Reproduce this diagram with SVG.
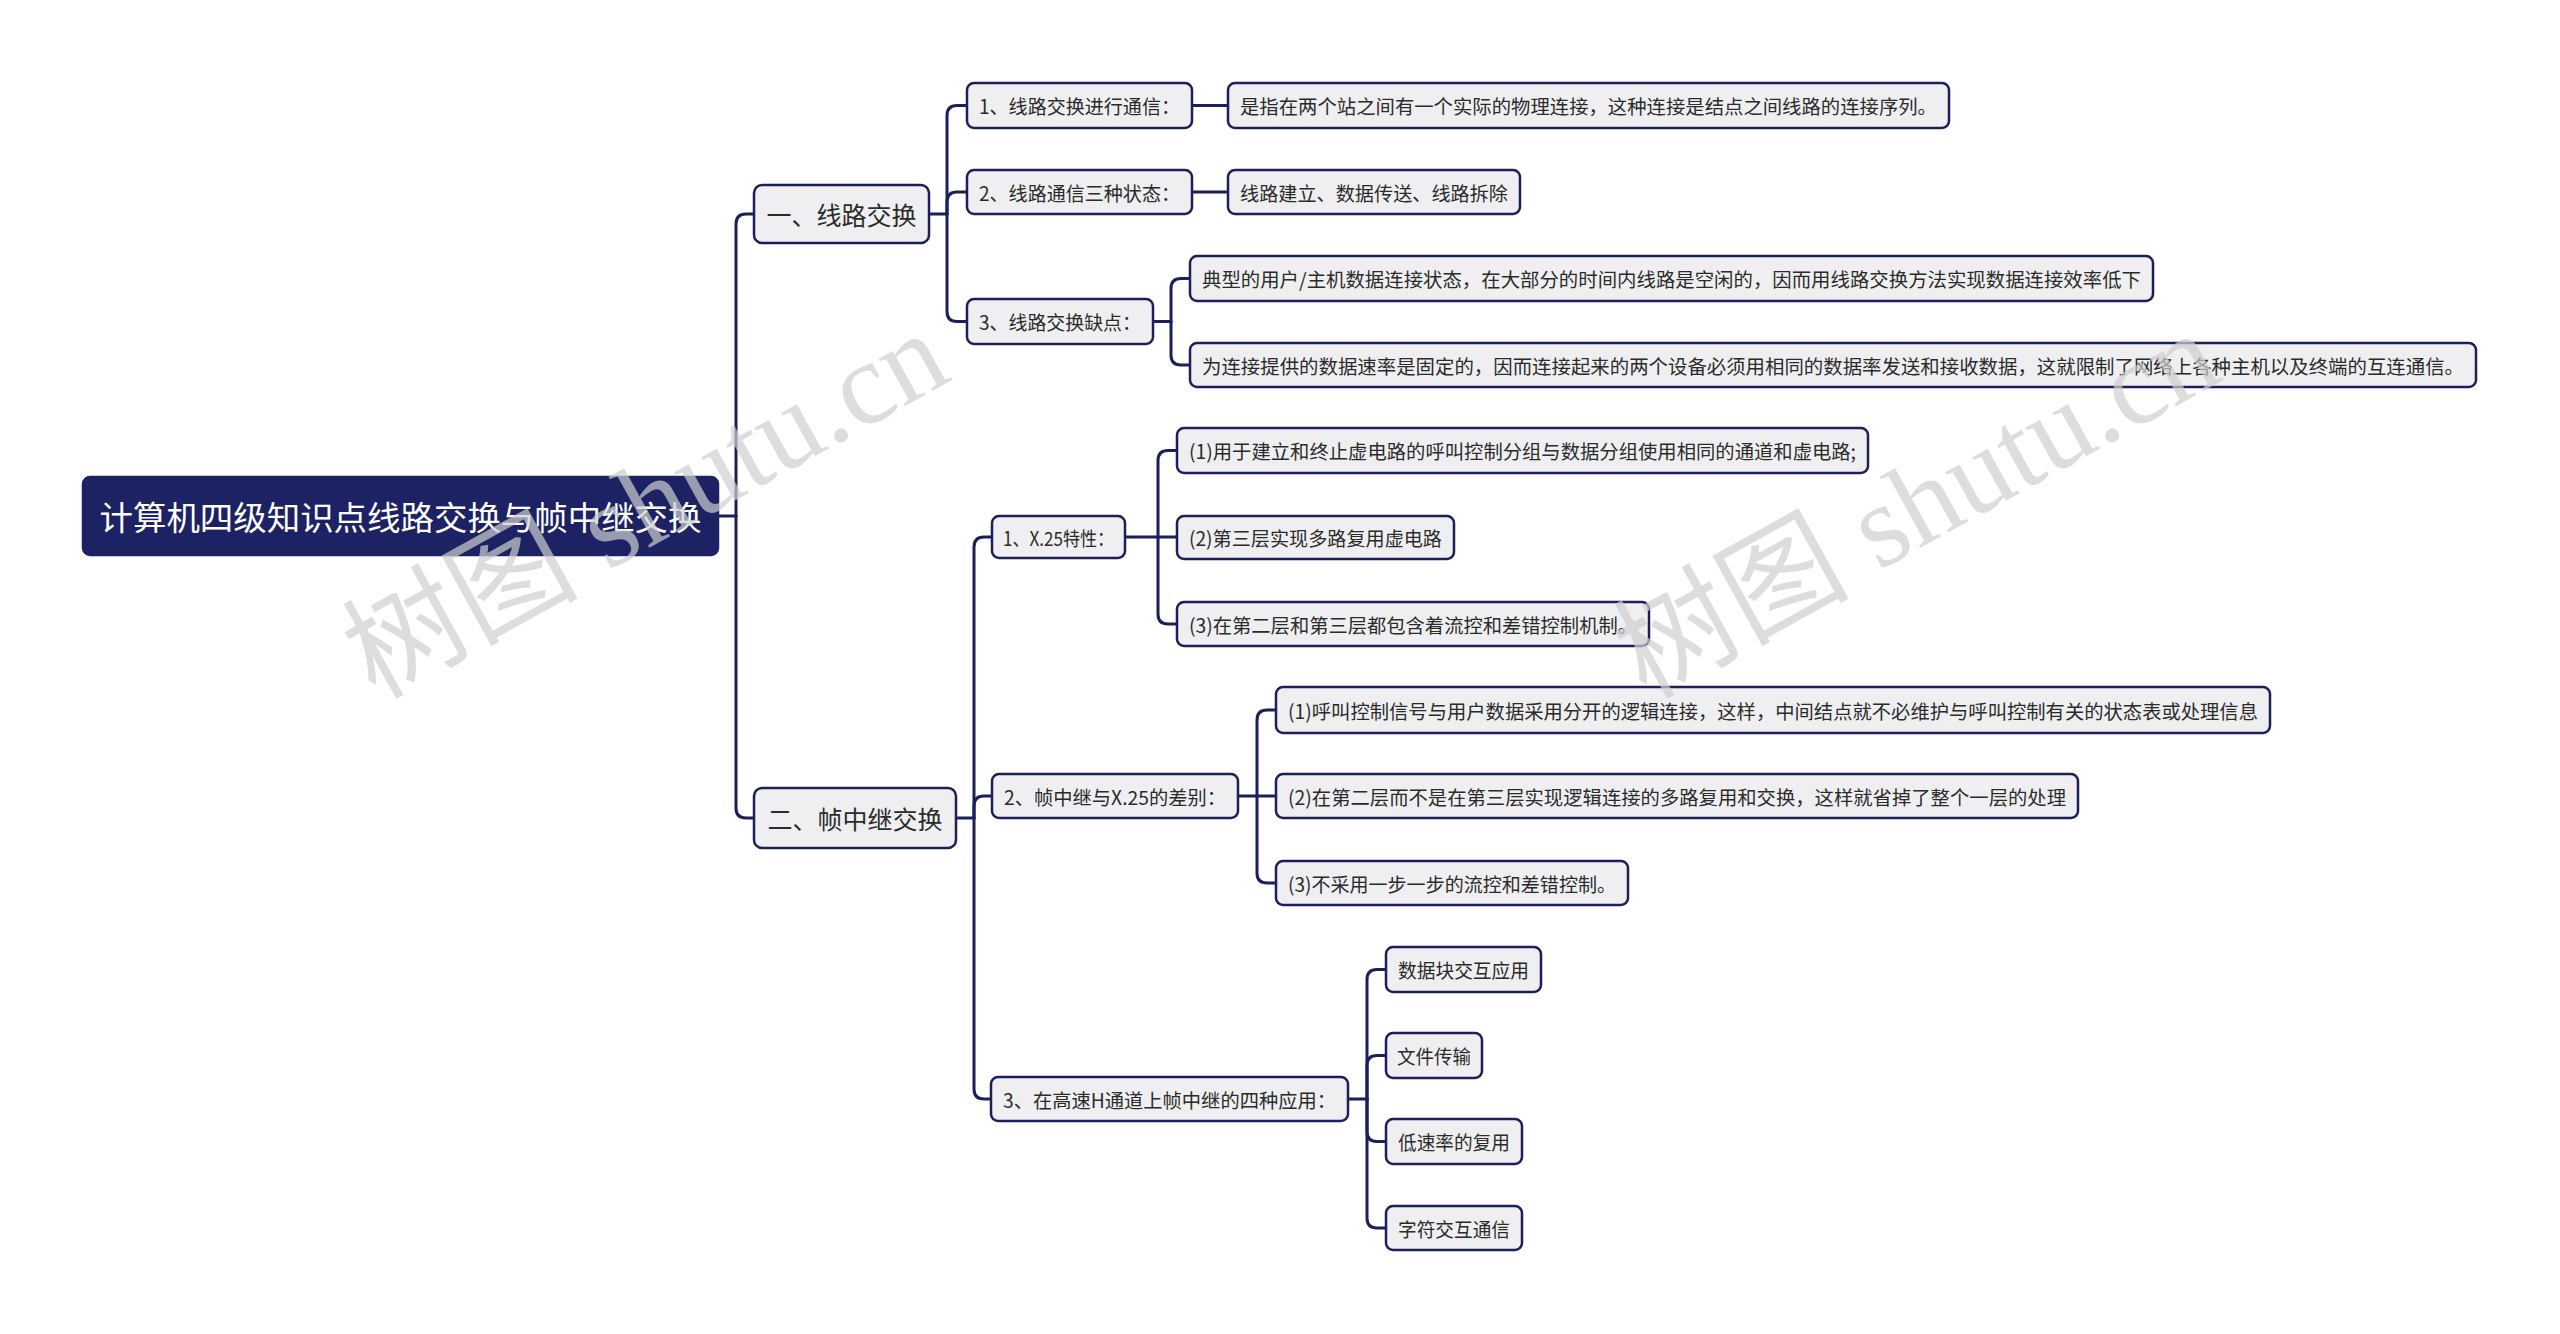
<svg xmlns="http://www.w3.org/2000/svg" width="2560" height="1334" viewBox="0 0 2560 1334">
<style>
.bg{fill:#ffffff}
.n rect{fill:#efeff1;stroke:#1b1f5a;stroke-width:2.5}
.n text{font-family:"Microsoft YaHei","Noto Sans CJK SC","Noto Sans",sans-serif;font-size:19.5px;fill:#2b2b2b;text-anchor:middle;dominant-baseline:central}
.l1 text{font-size:25px}
.root rect{fill:#1c2263;stroke:#1c2263}
.root text{font-size:33px;fill:#ffffff}
.c path{fill:none;stroke:#1b1f5a;stroke-width:3;stroke-linecap:round}
.wm{font-family:"Liberation Serif","Noto Sans CJK SC",serif;font-size:118px;fill:#cfcfcf;fill-opacity:0.7}
</style>
<rect class="bg" x="0" y="0" width="2560" height="1334"/>
<g id="connectors" class="c">
<path d="M718 516 H736"/>
<path d="M736 516 V224 Q736 214 746 214 H754"/>
<path d="M736 516 V808 Q736 818 746 818 H754"/>
<path d="M929 214 H947"/>
<path d="M947 214 V115.5 Q947 105.5 957 105.5 H967"/>
<path d="M947 214 V202 Q947 192 957 192 H967"/>
<path d="M947 214 V311.5 Q947 321.5 957 321.5 H967"/>
<path d="M1192 105.5 H1228"/>
<path d="M1192 192 H1228"/>
<path d="M1153 321.5 H1171"/>
<path d="M1171 321.5 V288.5 Q1171 278.5 1181 278.5 H1190"/>
<path d="M1171 321.5 V355 Q1171 365 1181 365 H1190"/>
<path d="M956 818 H974"/>
<path d="M974 818 V547 Q974 537 984 537 H992"/>
<path d="M974 818 V806 Q974 796 984 796 H992"/>
<path d="M974 818 V1089 Q974 1099 984 1099 H991"/>
<path d="M1125 537 H1158"/>
<path d="M1158 537 V460.5 Q1158 450.5 1168 450.5 H1177"/>
<path d="M1158 537 H1177"/>
<path d="M1158 537 V614 Q1158 624 1168 624 H1177"/>
<path d="M1238 796 H1257"/>
<path d="M1257 796 V720 Q1257 710 1267 710 H1276"/>
<path d="M1257 796 H1276"/>
<path d="M1257 796 V873 Q1257 883 1267 883 H1276"/>
<path d="M1348 1099 H1367"/>
<path d="M1367 1099 V979.5 Q1367 969.5 1377 969.5 H1386"/>
<path d="M1367 1099 V1065.5 Q1367 1055.5 1377 1055.5 H1386"/>
<path d="M1367 1099 V1131.5 Q1367 1141.5 1377 1141.5 H1386"/>
<path d="M1367 1099 V1218 Q1367 1228 1377 1228 H1386"/>
</g>
<g id="root" class="n root"><rect x="83" y="477" width="635" height="78" rx="7"/><text x="400.5" y="516" textLength="602" lengthAdjust="spacingAndGlyphs">计算机四级知识点线路交换与帧中继交换</text></g>
<g id="n-xljh" class="n l1"><rect x="754" y="185" width="175" height="58" rx="8"/><text x="841.5" y="214">一、线路交换</text></g>
<g id="n-zzjjh" class="n l1"><rect x="754" y="788" width="202" height="60" rx="8"/><text x="855" y="818">二、帧中继交换</text></g>
<g id="n-a1" class="n"><rect x="967" y="83" width="225" height="45" rx="7"/><text x="1079.5" y="105.5" textLength="201" lengthAdjust="spacingAndGlyphs">1、线路交换进行通信：</text></g>
<g id="n-a2" class="n"><rect x="967" y="170" width="225" height="44" rx="7"/><text x="1079.5" y="192" textLength="201" lengthAdjust="spacingAndGlyphs">2、线路通信三种状态：</text></g>
<g id="n-a3" class="n"><rect x="967" y="299" width="186" height="45" rx="7"/><text x="1060" y="321.5" textLength="162" lengthAdjust="spacingAndGlyphs">3、线路交换缺点：</text></g>
<g id="n-a1a" class="n"><rect x="1228" y="83" width="721" height="45" rx="7"/><text x="1588.5" y="105.5" textLength="697" lengthAdjust="spacingAndGlyphs">是指在两个站之间有一个实际的物理连接，这种连接是结点之间线路的连接序列。</text></g>
<g id="n-a2a" class="n"><rect x="1228" y="170" width="292" height="44" rx="7"/><text x="1374" y="192" textLength="268" lengthAdjust="spacingAndGlyphs">线路建立、数据传送、线路拆除</text></g>
<g id="n-a3a" class="n"><rect x="1190" y="256" width="963" height="45" rx="7"/><text x="1671.5" y="278.5" textLength="939" lengthAdjust="spacingAndGlyphs">典型的用户/主机数据连接状态，在大部分的时间内线路是空闲的，因而用线路交换方法实现数据连接效率低下</text></g>
<g id="n-a3b" class="n"><rect x="1190" y="343" width="1286" height="44" rx="7"/><text x="1833" y="365" textLength="1262" lengthAdjust="spacingAndGlyphs">为连接提供的数据速率是固定的，因而连接起来的两个设备必须用相同的数据率发送和接收数据，这就限制了网络上各种主机以及终端的互连通信。</text></g>
<g id="n-b1" class="n"><rect x="992" y="516" width="133" height="42" rx="7"/><text x="1058.5" y="537" textLength="111" lengthAdjust="spacingAndGlyphs">1、X.25特性：</text></g>
<g id="n-b1a" class="n"><rect x="1177" y="428" width="691" height="45" rx="7"/><text x="1522.5" y="450.5" textLength="667" lengthAdjust="spacingAndGlyphs">(1)用于建立和终止虚电路的呼叫控制分组与数据分组使用相同的通道和虚电路;</text></g>
<g id="n-b1b" class="n"><rect x="1177" y="516" width="277" height="43" rx="7"/><text x="1315.5" y="537.5" textLength="253" lengthAdjust="spacingAndGlyphs">(2)第三层实现多路复用虚电路</text></g>
<g id="n-b1c" class="n"><rect x="1177" y="602" width="472" height="44" rx="7"/><text x="1413" y="624" textLength="448" lengthAdjust="spacingAndGlyphs">(3)在第二层和第三层都包含着流控和差错控制机制。</text></g>
<g id="n-b2" class="n"><rect x="992" y="774" width="246" height="44" rx="7"/><text x="1115" y="796" textLength="222" lengthAdjust="spacingAndGlyphs">2、帧中继与X.25的差别：</text></g>
<g id="n-b2a" class="n"><rect x="1276" y="687" width="994" height="46" rx="7"/><text x="1773" y="710" textLength="970" lengthAdjust="spacingAndGlyphs">(1)呼叫控制信号与用户数据采用分开的逻辑连接，这样，中间结点就不必维护与呼叫控制有关的状态表或处理信息</text></g>
<g id="n-b2b" class="n"><rect x="1276" y="774" width="802" height="44" rx="7"/><text x="1677" y="796" textLength="778" lengthAdjust="spacingAndGlyphs">(2)在第二层而不是在第三层实现逻辑连接的多路复用和交换，这样就省掉了整个一层的处理</text></g>
<g id="n-b2c" class="n"><rect x="1276" y="861" width="352" height="44" rx="7"/><text x="1452" y="883" textLength="328" lengthAdjust="spacingAndGlyphs">(3)不采用一步一步的流控和差错控制。</text></g>
<g id="n-b3" class="n"><rect x="991" y="1077" width="357" height="44" rx="7"/><text x="1169.5" y="1099" textLength="333" lengthAdjust="spacingAndGlyphs">3、在高速H通道上帧中继的四种应用：</text></g>
<g id="n-b3a" class="n"><rect x="1386" y="947" width="155" height="45" rx="7"/><text x="1463.5" y="969.5" textLength="131" lengthAdjust="spacingAndGlyphs">数据块交互应用</text></g>
<g id="n-b3b" class="n"><rect x="1386" y="1033" width="96" height="45" rx="7"/><text x="1434" y="1055.5" textLength="74" lengthAdjust="spacingAndGlyphs">文件传输</text></g>
<g id="n-b3c" class="n"><rect x="1386" y="1119" width="136" height="45" rx="7"/><text x="1454" y="1141.5" textLength="112" lengthAdjust="spacingAndGlyphs">低速率的复用</text></g>
<g id="n-b3d" class="n"><rect x="1386" y="1206" width="136" height="44" rx="7"/><text x="1454" y="1228" textLength="112" lengthAdjust="spacingAndGlyphs">字符交互通信</text></g>
<g id="watermarks">
<text class="wm" transform="translate(375,700) rotate(-29)">树图 shutu.cn</text>
<text class="wm" transform="translate(1646,700) rotate(-29)">树图 shutu.cn</text>
</g>
</svg>
